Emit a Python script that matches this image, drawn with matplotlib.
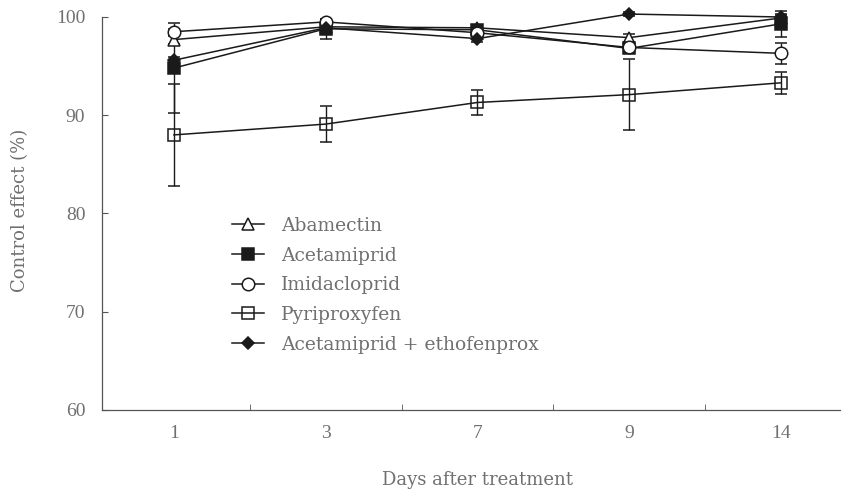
import matplotlib
matplotlib.use("Agg")
import matplotlib.pyplot as plt
from matplotlib.lines import Line2D
import numpy as np

days = ["1", "3", "7", "9", "14"]
series_names = ["Abamectin", "Acetamiprid", "Imidacloprid", "Pyriproxyfen",
                "Acetamiprid + ethofenprox"]
abamectin = [97.7, 99.0, 98.9, 97.9, 99.9]
acetamiprid = [94.8, 98.8, 98.7, 96.8, 99.3]
imidacloprid = [98.5, 99.5, 98.4, 96.9, 96.3]
pyriproxyfen = [88.0, 89.1, 91.3, 92.1, 93.3]
combo = [95.6, 98.9, 97.8, 100.3, 100.0]

abamectin_err = [0.4, 0.3, 0.3, 0.4, 0.3]
acetamiprid_err = [4.6, 1.0, 0.3, 0.3, 1.3]
imidacloprid_err = [0.3, 0.3, 0.3, 0.3, 1.05]
pyriproxyfen_err = [5.2, 1.85, 1.3, 3.65, 1.1]
combo_err = [0.3, 0.3, 0.3, 0.2, 0.3]

text_color = "#707070"
line_color = "#1a1a1a"
axis_color = "#555555"
num_font = ['Liberation Serif', 'DejaVu Serif']
txt_font = ['DejaVu Serif', 'Liberation Serif']
plt.rcParams['font.family'] = num_font

fig = plt.figure(figsize=(8.51, 4.92), dpi=100)
ax = fig.add_axes([102/851, 82/492, 738/851, 393/492])

x = np.arange(len(days))
styles = [
    (abamectin, abamectin_err, dict(marker='^', mfc='white', ms=8.5)),
    (acetamiprid, acetamiprid_err, dict(marker='s', mfc=line_color, ms=8)),
    (imidacloprid, imidacloprid_err, dict(marker='o', mfc='white', ms=9)),
    (pyriproxyfen, pyriproxyfen_err, dict(marker='s', mfc='none', ms=9)),
    (combo, combo_err, dict(marker='D', mfc=line_color, ms=6.5)),
]
handles = []
for name, (vals, err, st) in zip(series_names, styles):
    ax.errorbar(x, vals, yerr=err, color=line_color, lw=1.1, capsize=4,
                elinewidth=1.0, capthick=1.0, mec=line_color, mew=1.1,
                clip_on=False, zorder=3, **st)
    handles.append(Line2D([], [], color=line_color, lw=1.1, mec=line_color,
                          mew=1.1, label=name, **st))

ax.set_xlim(-0.474, 4.39)
ax.set_ylim(60, 100)
ax.spines['top'].set_visible(False)
ax.spines['right'].set_visible(False)
for s in ['left', 'bottom']:
    ax.spines[s].set_color(axis_color)
    ax.spines[s].set_linewidth(0.9)

ax.set_xticks(x)
ax.set_xticklabels(days)
ax.set_xticks([0.5, 1.5, 2.5, 3.5], minor=True)
ax.tick_params(axis='x', which='major', length=0, pad=11, labelsize=14,
               labelcolor=text_color)
ax.tick_params(axis='x', which='minor', direction='in', length=4,
               color=axis_color)
ax.set_yticks([60, 70, 80, 90, 100])
ax.tick_params(axis='y', direction='in', length=4, pad=12, labelsize=14,
               labelcolor=text_color, color=axis_color)

fig.text(20/851, 1 - 210/492, "Control effect (%)", rotation=90,
         ha='center', va='center', fontsize=13, color=text_color,
         family=txt_font)
fig.text(478/851, 1 - 480/492, "Days after treatment", ha='center',
         va='center', fontsize=13, color=text_color, family=txt_font)

leg = ax.legend(handles=handles, loc='upper left',
                bbox_to_anchor=((232 - 102) / 738, (410 - 217) / 393),
                frameon=False, borderpad=0, borderaxespad=0,
                prop={'family': txt_font, 'size': 13.5}, labelcolor=text_color,
                handlelength=1.7, labelspacing=0.62, handletextpad=0.9)

fig.savefig("out.png", dpi=100)
